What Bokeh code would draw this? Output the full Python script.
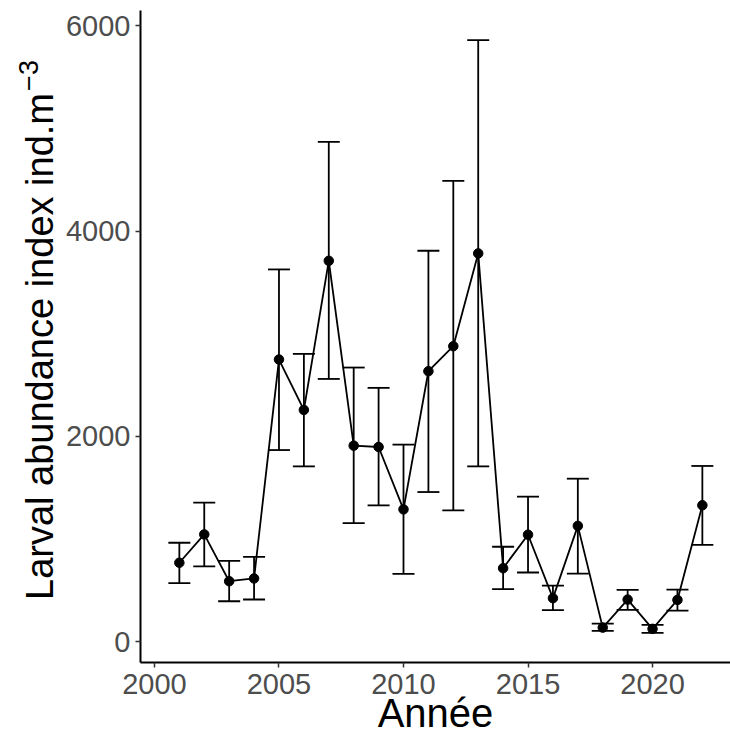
import math
from bokeh.plotting import figure
from bokeh.layouts import row
from bokeh.models import Range1d, FixedTicker, ColumnDataSource, Whisker, TeeHead, Label
from bokeh.embed import file_html
from bokeh.resources import INLINE

years = [2001, 2002, 2003, 2004, 2005, 2006, 2007, 2008, 2009, 2010, 2011,
         2012, 2013, 2014, 2015, 2016, 2017, 2018, 2019, 2020, 2021, 2022]
abundance = [768, 1044, 588, 615, 2748, 2257, 3710, 1909, 1896, 1288, 2634,
             2878, 3782, 715, 1041, 423, 1127, 136, 409, 124, 406, 1328]
lower = [569, 732, 393, 410, 1866, 1707, 2559, 1154, 1327, 660, 1457,
         1278, 1707, 510, 673, 306, 662, 104, 309, 85, 302, 942]
upper = [963, 1353, 787, 826, 3626, 2803, 4868, 2670, 2472, 1919, 3808,
         4488, 5860, 924, 1412, 545, 1587, 175, 503, 163, 506, 1711]

x_ticks = [2000, 2005, 2010, 2015, 2020]
y_ticks = [0, 2000, 4000, 6000]

x_title = "Année"
y_title = "Larval abundance index ind.m"
y_title_sup = "−3"

FONT = "Liberation Sans"
H = 743
LEFT_W = 62
FRAME_BOTTOM = 662  # canvas y of the frame bottom (shared by both plots in the row)

src = ColumnDataSource(dict(x=years, y=abundance, lo=lower, hi=upper))

# narrow strip holding the y-axis title (with its superscript)
left = figure(width=LEFT_W, height=H, x_range=Range1d(0, 1), y_range=Range1d(0, 1),
              x_axis_type=None, y_axis_type=None,
              output_backend="svg", toolbar_location=None,
              min_border=0)
left.outline_line_color = None
left.grid.visible = False
left.add_layout(Label(x=39, y=FRAME_BOTTOM - 346, x_units="screen", y_units="screen",
                      text=y_title, text_font=FONT, text_font_size="38px",
                      text_color="black", text_align="center",
                      text_baseline="middle", angle=math.pi / 2))
left.add_layout(Label(x=28, y=FRAME_BOTTOM - 75, x_units="screen", y_units="screen",
                      text=y_title_sup, text_font=FONT, text_font_size="27px",
                      text_color="black", text_align="center",
                      text_baseline="middle", angle=math.pi / 2))

p = figure(width=730 - LEFT_W, height=H,
           x_range=Range1d(1999.44, 2023.13), y_range=Range1d(-204, 6149),
           output_backend="svg", toolbar_location=None,
           min_border_left=140 - LEFT_W, min_border_right=0,
           min_border_top=10, min_border_bottom=81)

p.outline_line_color = None
p.xgrid.grid_line_color = None
p.ygrid.grid_line_color = None
p.background_fill_color = "white"
p.border_fill_color = "white"

p.line("x", "y", source=src, line_color="black", line_width=1.8)
p.scatter("x", "y", source=src, size=9.5, fill_color="black", line_color="black")

wh = Whisker(base="x", lower="lo", upper="hi", source=src,
             line_color="black", line_width=1.8,
             upper_head=TeeHead(size=22, line_color="black", line_width=1.8),
             lower_head=TeeHead(size=22, line_color="black", line_width=1.8))
p.add_layout(wh)

for ax in (p.xaxis[0], p.yaxis[0]):
    ax.axis_line_color = "black"
    ax.axis_line_width = 2
    ax.major_tick_line_color = "#333333"
    ax.major_tick_line_width = 1.5
    ax.major_tick_in = 0
    ax.major_tick_out = 5
    ax.minor_tick_line_color = None
    ax.major_label_text_font = FONT
    ax.major_label_text_font_size = "29px"
    ax.major_label_text_color = "#4D4D4D"

p.xaxis.ticker = FixedTicker(ticks=x_ticks)
p.yaxis.ticker = FixedTicker(ticks=y_ticks)
p.xaxis.major_label_standoff = 6
p.yaxis.major_label_standoff = 5

p.xaxis.axis_label = x_title
p.xaxis.axis_label_text_font = FONT
p.xaxis.axis_label_text_font_size = "40px"
p.xaxis.axis_label_text_font_style = "normal"
p.xaxis.axis_label_text_color = "black"
p.xaxis.axis_label_standoff = -6

layout = row(left, p)
open("out.html", "w").write(file_html(layout, INLINE))
